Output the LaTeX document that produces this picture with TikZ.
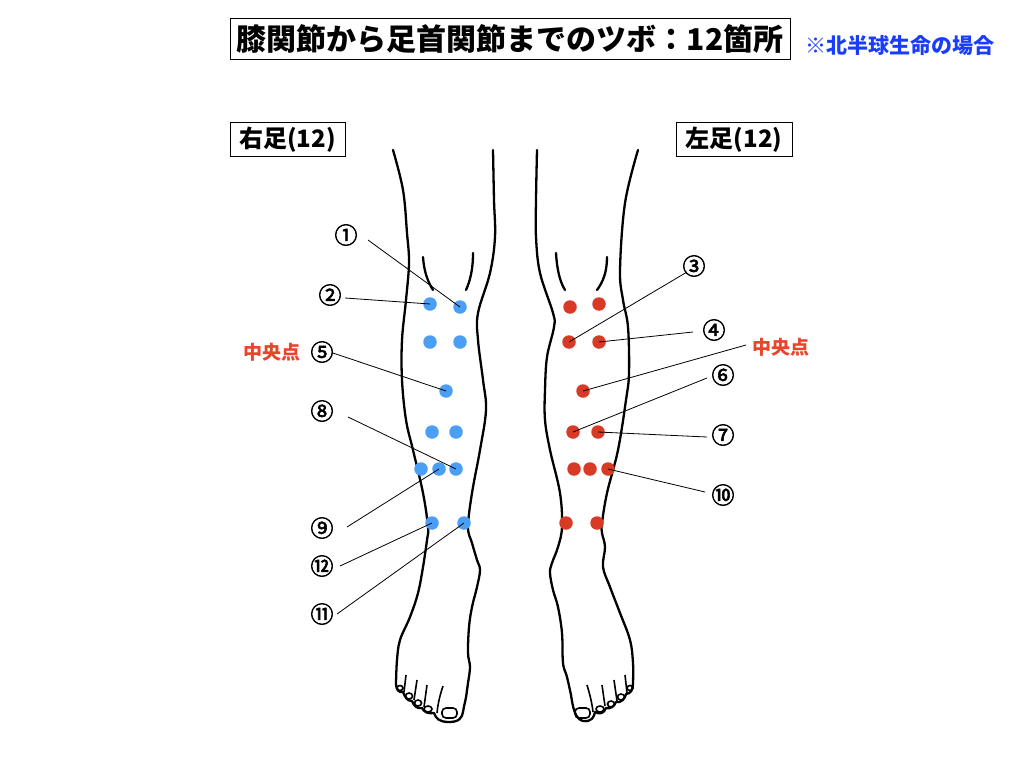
\documentclass[tikz,border=0pt]{standalone}
\usepackage{fontspec}
\newfontfamily\jp{Noto Sans CJK JP}
\newfontfamily\numfont[FakeBold=2.5]{Noto Sans CJK JP}
\definecolor{bluedot}{HTML}{4A9FF5}
\definecolor{reddot}{HTML}{D93A26}
\definecolor{midred}{HTML}{E8452C}
\definecolor{noteblue}{HTML}{1A3CFF}
\tikzset{
  leg/.style={line width=2.3pt, line join=round, line cap=round},
  conn/.style={line width=0.8pt},
  bdot/.style={circle, fill=bluedot, minimum size=13.5pt, inner sep=0pt},
  rdot/.style={circle, fill=reddot, minimum size=13.5pt, inner sep=0pt},
  num/.style={font=\numfont\fontsize{23}{23}\selectfont, inner sep=0pt},
  mid/.style={text=midred, font=\jp\bfseries\fontsize{19}{19}\selectfont, inner sep=0pt},
  box/.style={draw, line width=0.9pt, inner sep=0pt},
  nail/.style={line width=1.6pt}
}
\begin{document}
\begin{tikzpicture}[x=1pt,y=-1pt]
\useasboundingbox (0,0) rectangle (1024,768);
\fill[white] (0,0) rectangle (1024,768);

% title
\node[box, minimum width=560pt, minimum height=41pt] (titlebox) at (510,38.5) {};
\node[font=\jp\bfseries\fontsize{30}{30}\selectfont, inner sep=0pt] (title) at (510,39) {膝関節から足首関節までのツボ：12箇所};
\node[font=\jp\bfseries\fontsize{21}{21}\selectfont, text=noteblue, inner sep=0pt] (note) at (900,46) {※北半球生命の場合};

% leg labels
\node[box, minimum width=115pt, minimum height=34pt] (rbox) at (287.5,139) {};
\node[font=\jp\bfseries\fontsize{24}{24}\selectfont, inner sep=0pt] (rtxt) at (287.5,140) {右足(12)};
\node[box, minimum width=116pt, minimum height=34pt] (lbox) at (734,139) {};
\node[font=\jp\bfseries\fontsize{24}{24}\selectfont, inner sep=0pt] (ltxt) at (734,140) {左足(12)};

% ---------- left picture leg (right foot) ----------
\draw[leg] plot[smooth, tension=0.6] coordinates {(393,150) (403,190) (407,233) (409,263) (406,300) (402,340) (402,380) (406,420) (413,450) (423,493) (428,527) (427,540) (423,567) (418,593) (410,617) (400,640) (397,660) (396,683)}
  .. controls (396,690) and (399,693) .. (403,692)
  .. controls (405,697) and (407,701) .. (412,701)
  .. controls (414,706) and (417,709) .. (422,708)
  .. controls (424,712) and (428,714) .. (434,713)
  .. controls (436,719) and (440,722) .. (449,722)
  .. controls (459,722) and (462,718) .. (463,712)
  .. controls (464,705) and (466,700) .. (467,690);
\draw[leg] plot[smooth, tension=0.6] coordinates {(467,690) (468,683) (470,667) (468,653) (469,627) (472,607) (477,587) (480,570) (477,560) (472,543) (468,527) (472,493) (480,450) (486,410) (483,380) (478,340) (478,313) (490,273) (495,237) (494,200) (493,150)};
% toes
\draw[nail] (406,675) -- (404,692);
\draw[nail] (417,680) -- (414,700);
\draw[nail] (427,685) -- (424,707);
\draw[nail] (443,686) .. controls (440,695) and (438,703) .. (437,713);
\draw[nail] (400,688) ellipse (3pt and 2.5pt);
\draw[nail] (409,696) ellipse (3.5pt and 3pt);
\draw[nail] (418,703) ellipse (3.5pt and 3pt);
\draw[nail] (428,709) ellipse (4pt and 3pt);
\draw[nail, rounded corners=4pt] (442,708) rectangle (457,718);
% knee
\draw[leg] (423,257) .. controls (424,272) and (428,282) .. (433,290);
\draw[leg] (473,253) .. controls (473,270) and (470,281) .. (466,290);

% ---------- right picture leg (left foot) ----------
\draw[leg] plot[smooth, tension=0.6] coordinates {(537,150) (536,200) (536,237) (540,273) (553,313) (554,327) (547,357) (545,390) (545,420) (550,450) (560,493) (562,527) (558,547) (552,563) (550,573) (553,590) (558,607) (562,633) (563,663) (567,677) (571,695)}
  .. controls (573,708) and (575,719) .. (583,721)
  .. controls (592,722) and (594,717) .. (595,712)
  .. controls (600,715) and (604,713) .. (606,708)
  .. controls (610,709) and (614,707) .. (616,702)
  .. controls (621,703) and (625,699) .. (626,694)
  .. controls (631,694) and (633,689) .. (633,683);
\draw[leg] plot[smooth, tension=0.6] coordinates {(633,683) (633,663) (630,640) (620,613) (610,587) (603,567) (605,547) (602,533) (602,523) (607,493) (618,450) (626,400) (629,373) (628,327) (623,300) (620,270) (625,203) (638,150)};
\draw[nail] (587,685) .. controls (590,695) and (592,703) .. (593,712);
\draw[nail] (602,685) -- (605,706);
\draw[nail] (614,680) -- (617,701);
\draw[nail] (625,675) -- (627,693);
\draw[nail] (600,709) ellipse (4pt and 3pt);
\draw[nail] (611,704) ellipse (3.5pt and 3pt);
\draw[nail] (621,697) ellipse (3.5pt and 3pt);
\draw[nail] (630,688) ellipse (3pt and 2.5pt);
\draw[nail, rounded corners=4pt] (575,708) rectangle (590,718);
\draw[leg] (556,253) .. controls (557,270) and (560,282) .. (565,290);
\draw[leg] (607,257) .. controls (607,272) and (603,282) .. (597,290);

% ---------- blue dots ----------
\node[bdot] (b1) at (430,304) {};
\node[bdot] (b2) at (460,307) {};
\node[bdot] (b3) at (430,342) {};
\node[bdot] (b4) at (460,342) {};
\node[bdot] (b5) at (446,391) {};
\node[bdot] (b6) at (432,432) {};
\node[bdot] (b7) at (456,432) {};
\node[bdot] (b8) at (421,469) {};
\node[bdot] (b9) at (439,469) {};
\node[bdot] (b10) at (456,469) {};
\node[bdot] (b11) at (432,523) {};
\node[bdot] (b12) at (464,523) {};

% ---------- red dots ----------
\node[rdot] (r1) at (570,307) {};
\node[rdot] (r2) at (599,304) {};
\node[rdot] (r3) at (569,342) {};
\node[rdot] (r4) at (599,342) {};
\node[rdot] (r5) at (583,391) {};
\node[rdot] (r6) at (573,432) {};
\node[rdot] (r7) at (598,432) {};
\node[rdot] (r8) at (574,469) {};
\node[rdot] (r9) at (590,469) {};
\node[rdot] (r10) at (608,469) {};
\node[rdot] (r11) at (566,523) {};
\node[rdot] (r12) at (597,523) {};

% ---------- left labels ----------
\node[num] (n1) at (346,235) {①};
\node[num] (n2) at (330,295) {②};
\node[num] (n5) at (322,352) {⑤};
\node[mid] (midL) at (272,352) {中央点};
\node[num] (n8) at (322,411) {⑧};
\node[num] (n9) at (322,528) {⑨};
\node[num] (n12) at (322,566) {⑫};
\node[num] (n11) at (322,614) {⑪};

\coordinate (s1) at (368,240);
\coordinate (s2) at (345,298);
\coordinate (s5) at (333,353);
\coordinate (s8) at (348,417);
\coordinate (s9) at (347,527);
\coordinate (s12) at (340,566);
\coordinate (s11) at (337,614);
\draw[conn] (s1) -- (b2.center);
\draw[conn] (s2) -- (b1.center);
\draw[conn] (s5) -- (b5.center);
\draw[conn] (s8) -- (b10.center);
\draw[conn] (s9) -- (b9.center);
\draw[conn] (s12) -- (b11.center);
\draw[conn] (s11) -- (b12.center);

% ---------- right labels ----------
\node[num] (n3) at (694,266) {③};
\node[num] (n4) at (714,330) {④};
\node[mid] (midR) at (781,347) {中央点};
\node[num] (n6) at (723,375) {⑥};
\node[num] (n7) at (723,435) {⑦};
\node[num] (n10) at (723,495) {⑩};

\coordinate (s3) at (687,272);
\coordinate (s4) at (693,332);
\coordinate (sm) at (746,345);
\coordinate (s6) at (707,378);
\coordinate (s7) at (707,437);
\coordinate (s10) at (705,492);
\draw[conn] (s3) -- (r3.center);
\draw[conn] (s4) -- (r4.center);
\draw[conn] (sm) -- (r5.center);
\draw[conn] (s6) -- (r6.center);
\draw[conn] (s7) -- (r7.center);
\draw[conn] (s10) -- (r10.center);
\end{tikzpicture}
\end{document}
